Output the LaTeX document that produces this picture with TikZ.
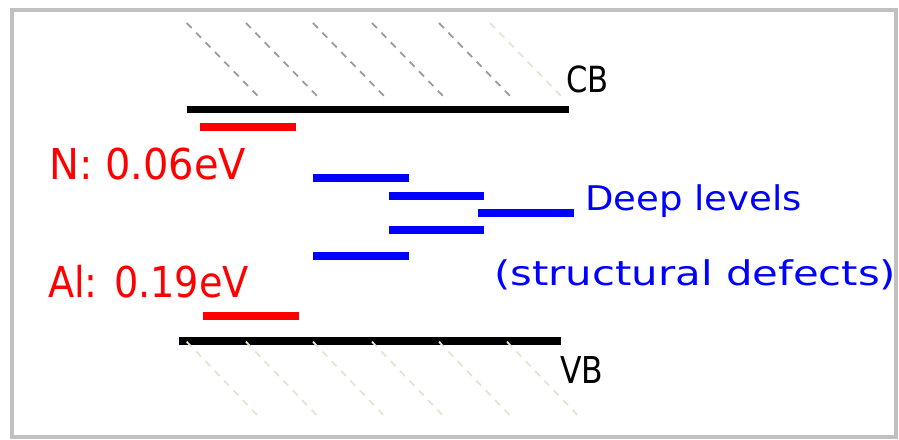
\documentclass[tikz,border=0pt]{standalone}
\usepackage{fontspec}
\setmainfont{DejaVu Sans}
\definecolor{framegray}{HTML}{C0C0C0}
\definecolor{hatchgray}{HTML}{9A9A9A}
\definecolor{hatchbeige}{HTML}{E6E3D3}
\definecolor{lvlred}{HTML}{FF0000}
\definecolor{lvlblue}{HTML}{0000FF}
\tikzset{
  hatchline/.style={line width=1.8pt, dash pattern=on 7pt off 6.5pt},
  bandbar/.style={line width=7.5pt, black},
  redlevel/.style={line width=8pt, lvlred},
  bluelevel/.style={line width=8pt, lvlblue},
  lbl/.style={inner sep=0pt, anchor=base west},
}
\begin{document}
\begin{tikzpicture}[x=1pt,y=-1pt]
\useasboundingbox (0,0) rectangle (899,439);
\draw[framegray, line width=4pt] (12,9.5) rectangle (896,437);
% top hatching (conduction band)
\foreach \s/\c in {186.7/hatchgray,246/hatchgray,313/hatchgray,372/hatchgray,439/hatchgray,490/hatchbeige}
  \draw[hatchline,\c] (\s,23) -- ++(74,76);
% band edges
\draw[bandbar] (186.7,109.5) coordinate (cbL) -- (569,109.5) coordinate (cbR);
\draw[bandbar] (179,341) coordinate (vbL) -- (561,341) coordinate (vbR);
% bottom hatching (valence band)
\foreach \s in {186.7,246,313,372,439,507}
  \draw[hatchline,hatchbeige] (\s,341.7) -- ++(73.5,76.5);
% shallow levels
\draw[redlevel] (200,126.7) -- (296,126.7);
\draw[redlevel] (203,316) -- (299,316);
% deep levels
\draw[bluelevel] (312.7,178.3) -- (408.7,178.3);
\draw[bluelevel] (388.7,196) -- (484.3,196);
\draw[bluelevel] (478.3,213) -- (574,213);
\draw[bluelevel] (388.7,230) -- (484.3,230);
\draw[bluelevel] (312.7,256) -- (408.7,256);
% labels
\node[lbl] (cb) at (566,92.3) {\fontsize{36}{40}\selectfont\scalebox{0.85}[1]{CB}};
\node[lbl] (vb) at (560,383.3) {\fontsize{37}{40}\selectfont\scalebox{0.85}[1]{VB}};
\node[lbl, text=lvlred] (nlab) at (49,179) {\fontsize{42.5}{46}\selectfont\scalebox{0.94}[1]{N: 0.06eV}};
\node[lbl, text=lvlred] (allab) at (48,297.7) {\fontsize{42.5}{46}\selectfont\scalebox{0.9}[1]{Al: 0.19eV}};
\node[lbl, text=lvlblue] (deep) at (585,210) {\fontsize{34}{38}\selectfont\scalebox{1.09}[1]{Deep levels}};
\node[lbl, text=lvlblue] (struct) at (494,285) {\fontsize{34}{38}\selectfont\scalebox{1.23}[1]{(structural defects)}};
\end{tikzpicture}
\end{document}
